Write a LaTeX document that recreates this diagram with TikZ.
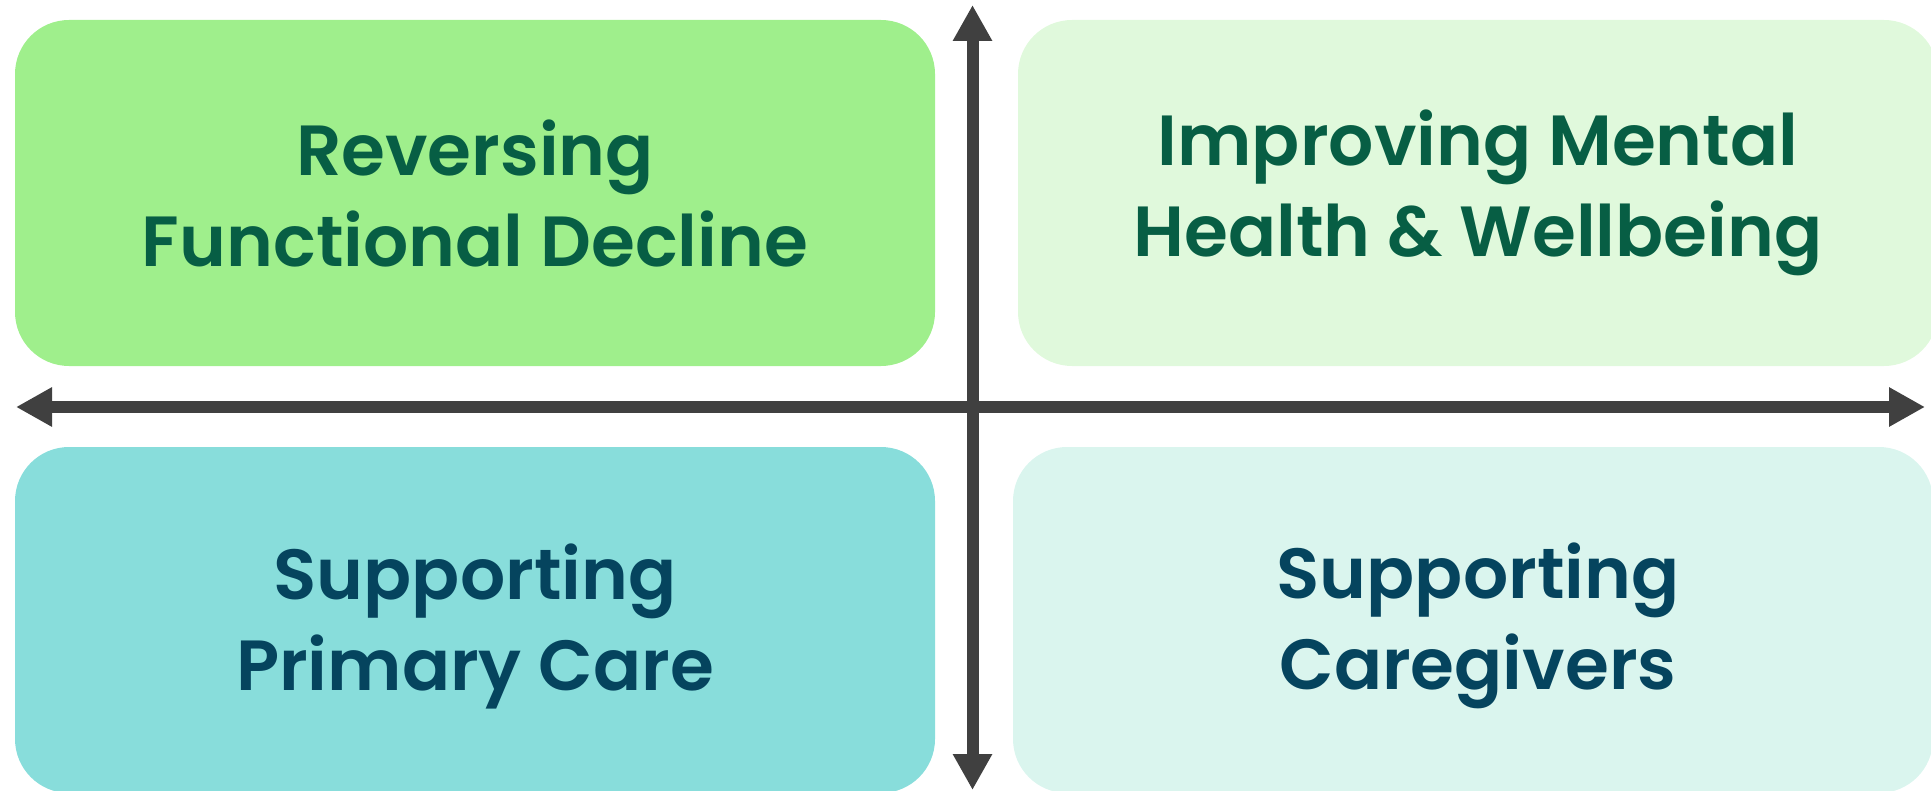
\documentclass[tikz,border=0pt]{standalone}
\usepackage{fontspec}
\setmainfont{Poppins}[BoldFont={Poppins SemiBold}]
\usepackage{tikz}
\usetikzlibrary{arrows.meta}
\definecolor{revfill}{HTML}{9FEF8C}
\definecolor{mentfill}{HTML}{E0F9DC}
\definecolor{primfill}{HTML}{88DDDB}
\definecolor{carefill}{HTML}{DAF5EE}
\definecolor{topink}{HTML}{075E44}
\definecolor{botink}{HTML}{05445E}
\definecolor{axisgray}{HTML}{404040}
\tikzset{>={Triangle[length=18pt,width=18.5pt]}}

\begin{document}
\begin{tikzpicture}[x=0.5pt,y=-0.5pt,
    quad/.style={rounded corners=27pt, inner sep=0pt, minimum width=460pt,
      minimum height=173pt},
    quadtext/.style={inner sep=0pt, align=center,
      font=\fontsize{35.5}{45.5}\selectfont\bfseries},
    axis/.style={<->, line width=6pt, draw=axisgray}]
      \useasboundingbox (0,0) rectangle (1931,791);

      \node[quad, fill=revfill] (rev) at (475,193) {};
      \node[quad, fill=mentfill] (ment) at (1478,193) {};
      \node[quad, fill=primfill] (prim) at (475,620) {};
      \node[quad, fill=carefill] (care) at (1473,620) {};

      \node[quadtext, text=topink] (revtxt) at (rev.center)
        {Reversing\\Functional Decline};
      \node[quadtext, text=topink] (menttxt) at (ment.center)
        {Improving Mental\\Health \& Wellbeing};
      \node[quadtext, text=botink] (primtxt) at ([yshift=-3pt]prim.center)
        {Supporting\\Primary Care};
      \node[quadtext, text=botink] (caretxt) at ([xshift=2.5pt,yshift=-3pt]care.center)
        {Supporting\\Caregivers};

      \coordinate (vtop) at (972.5,5);
      \coordinate (vbot) at (972.5,790);
      \coordinate (hleft) at (16,407);
      \coordinate (hright) at (1925,407);

      \draw[axis] (vbot) -- (vtop);
      \draw[axis] (hleft) -- (hright);

    \end{tikzpicture}
\end{document}
